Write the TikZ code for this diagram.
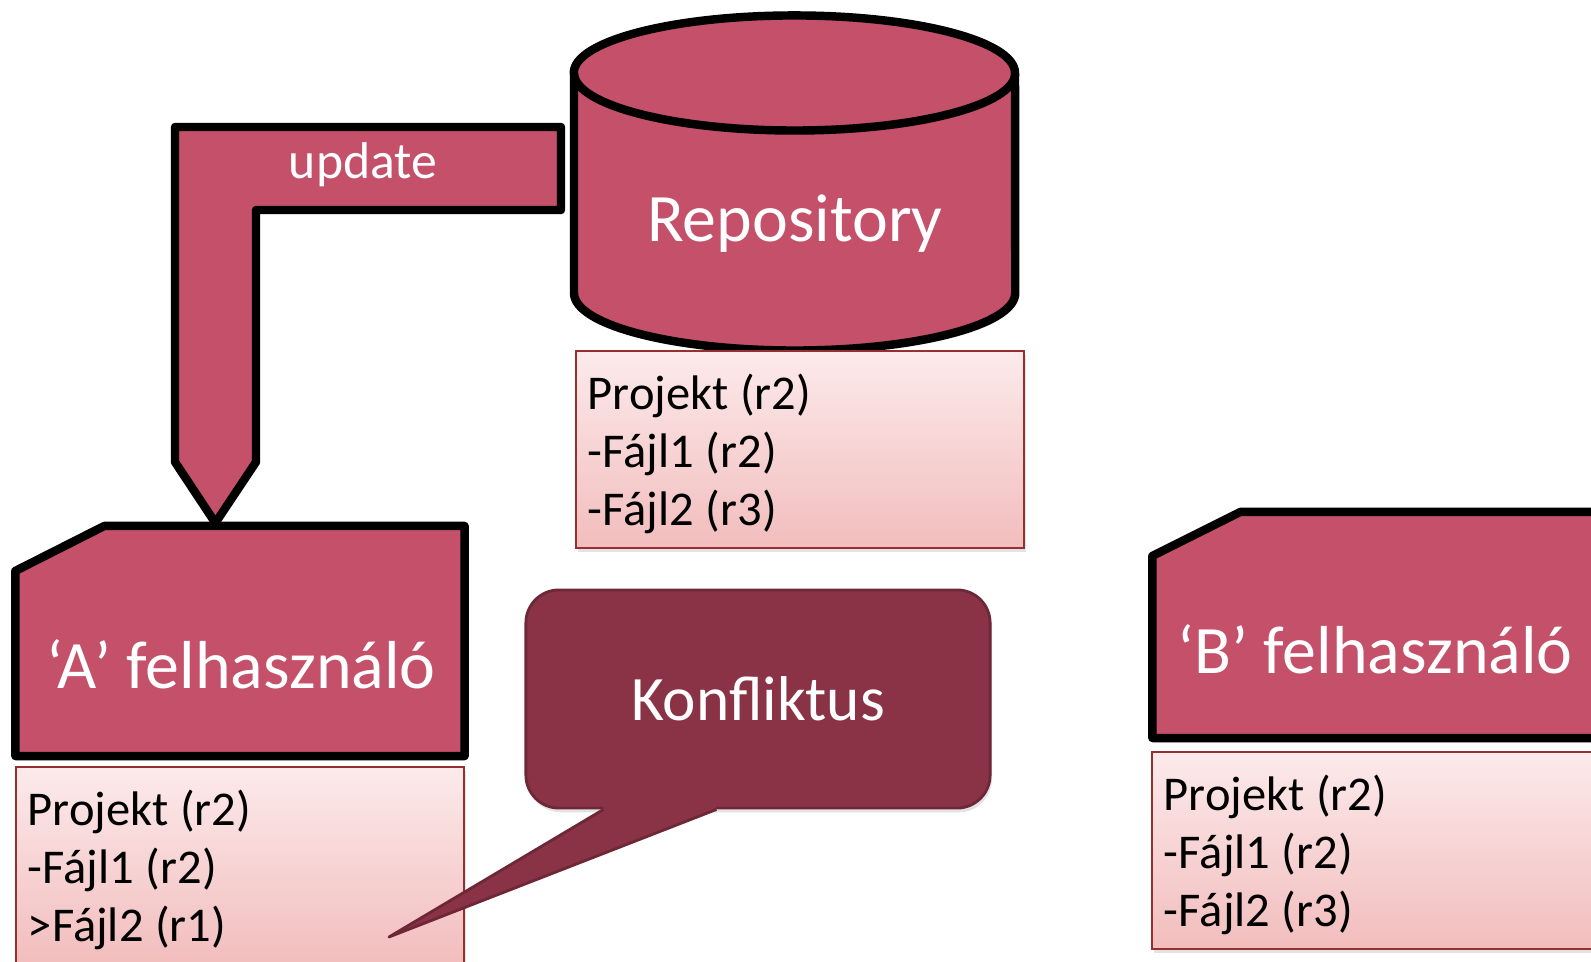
\documentclass[tikz,border=0pt]{standalone}
\usepackage{fontspec}
\setmainfont{Carlito}
\usetikzlibrary{calc,shadows}

\definecolor{userred}{RGB}{196,80,106}
\definecolor{konfred}{RGB}{139,51,70}
\definecolor{konfline}{RGB}{110,39,54}
\definecolor{listtop}{RGB}{252,234,235}
\definecolor{listbot}{RGB}{242,189,189}
\definecolor{listline}{RGB}{150,48,48}

\tikzset{
    softshadow/.style={drop shadow={shadow xshift=0.5pt, shadow yshift=-1.2pt, opacity=0.22}},
    thickline/.style={draw=black, line width=2.4pt, line join=round, fill=userred, softshadow},
    bigtext/.style={text=white, font=\fontsize{19.3}{23}\selectfont},
    userbox/.style={minimum width=4.49cm, outer sep=0pt, inner sep=0pt},
    listbox/.style={draw=listline, line width=0.6pt, top color=listtop, bottom color=listbot,
        softshadow, minimum width=4.48cm, minimum height=1.97cm, text width=4.24cm,
        inner xsep=0.12cm, align=left, font=\fontsize{13.8}{16.5}\selectfont,
        execute at begin node={\spaceskip=0.24em\relax\rule{0pt}{12.8pt}}},
    konfbox/.style={fill=konfred, draw=konfline, line width=0.8pt, rounded corners=0.33cm,
        minimum width=4.64cm, minimum height=2.18cm, text=white, font=\fontsize{18}{22}\selectfont},
}

\begin{document}
\begin{tikzpicture}[x=0.01cm, y=-0.01cm]
    \useasboundingbox (0,0) rectangle (1591,962);

    % Repository cylinder
    \draw[thickline] (574,73) -- (574,293)
        arc[start angle=180, end angle=360, x radius=2.205cm, y radius=0.575cm]
        -- (1015,73)
        arc[start angle=0, end angle=180, x radius=2.205cm, y radius=0.575cm] -- cycle;
    \draw[draw=black, line width=2.4pt] (574,73)
        arc[start angle=180, end angle=360, x radius=2.205cm, y radius=0.575cm];
    \node[bigtext] (repo) at (795,224) {Repository};
    \node[listbox] (repolist) at (800,449.5) {Projekt (r2)\\-Fájl1 (r2)\\-Fájl2 (r3)};

    % 'A' user
    \node[userbox, minimum height=2.3cm] (userA) at (240,641) {};
    \draw[thickline] (userA.south west) -- ($(userA.north west)+(0,45)$)
        -- ($(userA.north west)+(89,0)$) -- (userA.north east) -- (userA.south east) -- cycle;
    \node[bigtext] (userAtext) at ($(userA.center)+(1,23)$) {‘A’ felhasználó};
    \node[listbox] (listA) at (240,865.5) {Projekt (r2)\\-Fájl1 (r2)\\>Fájl2 (r1)};

    % 'B' user
    \node[userbox, minimum height=2.26cm] (userB) at (1377,625) {};
    \draw[thickline] (userB.south west) -- ($(userB.north west)+(0,44)$)
        -- ($(userB.north west)+(88,0)$) -- (userB.north east) -- (userB.south east) -- cycle;
    \node[bigtext] (userBtext) at ($(userB.center)+(-2,24)$) {‘B’ felhasználó};
    \node[listbox] (listB) at (1376,850.5) {Projekt (r2)\\-Fájl1 (r2)\\-Fájl2 (r3)};

    % update arrow from the repository down to 'A'
    \coordinate (tipA) at ($(userA.north west)+(200,-3)$);
    \draw[thickline] (561,127) -- (175,127) -- (175,462) -- (tipA)
        -- (256,462) -- (256,210) -- (561,210) -- cycle;
    \node[text=white, font=\fontsize{14.7}{18}\selectfont] (update) at (363,165) {update};

    % Konfliktus callout
    \node[konfbox, softshadow] (konflikt) at (758,699) {Konfliktus};
    \coordinate (tipK) at (389,937);
    \fill[konfred] ($(konflikt.south west)+(79,-5)$) -- ($(konflikt.south west)+(79,0)$)
        -- (tipK) -- ($(konflikt.south west)+(192,0)$) -- ($(konflikt.south west)+(192,-5)$) -- cycle;
    \draw[konfline, line width=0.8pt, line join=round] ($(konflikt.south west)+(79,0)$)
        -- (tipK) -- ($(konflikt.south west)+(192,0)$);
\end{tikzpicture}
\end{document}
